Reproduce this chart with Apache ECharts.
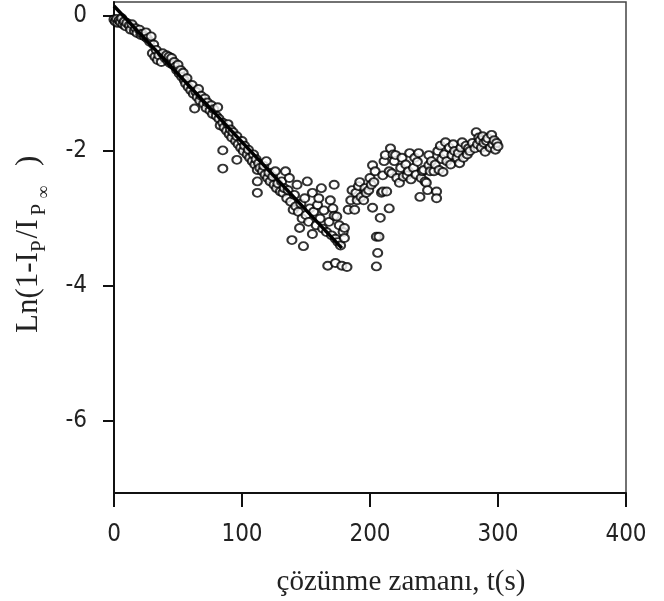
<!DOCTYPE html>
<html><head><meta charset="utf-8">
<script src="https://cdn.jsdelivr.net/npm/echarts@6/dist/echarts.min.js"></script>
<style>html,body{margin:0;padding:0;background:#fff}#c{width:664px;height:601px}</style>
</head><body><div id="c"></div>
<script>
// measured points (t in s, ln value)
const obsT = [0,1,2,3,4,5,6,7,8,9,10,12,13,14,16,17,18,20,21,22,24,25,26,28,29,30,31,32,33,34,35,37,38,40,41,42,43,44,45,46,47,48,49,50,51,52,53,54,55,56,57,58,60,61,62,63,64,65,66,67,68,70,71,72,73,75,76,77,78,80,81,82,83,85,85,85,86,88,89,90,91,92,93,95,96,96,97,99,100,101,102,104,105,106,108,109,110,111,112,112,112,113,114,116,117,118,119,120,121,122,124,125,126,127,128,130,131,132,133,134,135,136,137,138,139,140,141,142,143,144,145,146,147,148,149,150,151,152,153,155,155,156,158,159,160,161,162,163,164,166,167,168,169,170,171,172,172,173,173,174,175,176,177,178,179,180,180,182,
183,185,186,188,189,190,191,192,193,195,196,197,199,200,201,202,202,203,204,205,205,206,207,208,209,210,210,211,212,213,215,215,216,217,218,219,220,221,223,224,225,226,228,229,230,231,232,234,235,236,237,238,239,240,241,242,243,244,245,246,246,247,248,250,251,252,252,253,254,255,256,257,258,259,260,262,263,264,265,266,268,269,270,271,272,273,275,276,277,278,280,282,283,284,285,286,287,288,289,290,291,292,294,295,296,297,298,299,300];
const obsY = [-0.05,-0.08,-0.04,-0.1,-0.06,-0.09,-0.03,-0.12,-0.08,-0.15,-0.1,-0.14,-0.2,-0.12,-0.22,-0.18,-0.25,-0.2,-0.28,-0.26,-0.3,-0.24,-0.33,-0.38,-0.3,-0.55,-0.42,-0.6,-0.5,-0.65,-0.58,-0.68,-0.55,-0.62,-0.58,-0.66,-0.6,-0.7,-0.62,-0.72,-0.68,-0.75,-0.8,-0.72,-0.85,-0.8,-0.9,-0.84,-0.95,-1.0,-0.92,-1.05,-1.1,-1.02,-1.15,-1.37,-1.12,-1.2,-1.08,-1.25,-1.18,-1.3,-1.22,-1.36,-1.28,-1.4,-1.32,-1.45,-1.38,-1.48,-1.35,-1.52,-1.62,-1.58,-1.99,-2.26,-1.65,-1.7,-1.6,-1.75,-1.68,-1.8,-1.72,-1.85,-2.13,-1.78,-1.9,-1.95,-1.85,-2.0,-1.92,-2.05,-1.98,-2.1,-2.15,-2.05,-2.2,-2.12,-2.28,-2.45,-2.62,-2.18,-2.25,-2.3,-2.22,-2.35,-2.15,-2.4,-2.32,-2.45,-2.38,-2.5,-2.3,-2.55,-2.48,-2.6,-2.45,-2.62,-2.55,-2.3,-2.7,-2.58,-2.4,-2.75,-3.32,-2.87,-2.65,-2.82,-2.5,-2.9,-3.14,-2.78,-3.0,-3.41,-2.7,-2.95,-2.45,-3.05,-2.85,-3.23,-2.62,-2.9,-3.1,-2.8,-2.7,-3.0,-2.55,-3.15,-2.88,-3.2,-3.7,-3.05,-2.73,-3.25,-2.85,-2.5,-2.96,-3.3,-3.66,-2.97,-3.35,-3.1,-3.4,-3.7,-3.2,-3.29,-3.14,-3.72,
-2.87,-2.73,-2.58,-2.87,-2.62,-2.73,-2.52,-2.46,-2.68,-2.73,-2.55,-2.62,-2.58,-2.4,-2.5,-2.84,-2.21,-2.46,-2.3,-3.71,-3.27,-3.51,-3.27,-2.99,-2.62,-2.6,-2.36,-2.15,-2.06,-2.6,-2.85,-2.3,-1.96,-2.33,-2.05,-2.15,-2.06,-2.4,-2.47,-2.25,-2.1,-2.38,-2.2,-2.36,-2.3,-2.03,-2.42,-2.25,-2.1,-2.35,-2.16,-2.03,-2.68,-2.4,-2.3,-2.28,-2.45,-2.47,-2.58,-2.06,-2.21,-2.3,-2.15,-2.3,-2.2,-2.6,-2.7,-2.0,-2.28,-1.92,-2.12,-2.31,-2.05,-1.87,-2.15,-1.95,-2.2,-2.06,-1.9,-2.0,-2.1,-2.03,-2.18,-1.95,-1.87,-2.1,-1.92,-2.05,-1.96,-2.0,-1.88,-1.96,-1.72,-1.9,-1.8,-1.84,-1.95,-1.78,-1.88,-2.01,-1.85,-1.81,-1.95,-1.76,-1.9,-1.84,-1.98,-1.88,-1.93];
// fitted line end points
const fitT = [0, 178];
const fitY = [0.15, -3.44];
const xTicks = [0, 100, 200, 300, 400];
const yTicks = [-6, -4, -2, 0];

const scatterData = obsT.map((t, i) => [t, obsY[i]]);
const lineData = fitT.map((t, i) => [t, fitY[i]]);

// y-axis title pieces: [text, fontSize, baseline shift, extra gap after]
const serif = '"Liberation Serif", serif';
const pieces = [['Ln(1-I', 31, 0, 0], ['P', 21, 6, 2], ['/I', 31, 0, 4], ['P', 21, 6, 5], ['\u221E', 18, 9, 20], [')', 31, 0, 0]];
const mctx = document.createElement('canvas').getContext('2d');
let cx = 0;
const titleEls = pieces.map(p => {
  mctx.font = p[1] + 'px ' + serif;
  const el = {type: 'text', x: cx, y: p[2], style: {text: p[0], font: p[1] + 'px ' + serif, fill: '#222', align: 'left', verticalAlign: 'bottom'}};
  cx += mctx.measureText(p[0]).width + p[3];
  return el;
});

const chart = echarts.init(document.getElementById('c'), null, {renderer: 'canvas'});
const tickFont = {fontFamily: '"Liberation Sans Narrow", "DejaVu Sans Condensed", sans-serif', fontSize: 24, color: '#222'};
chart.setOption({
  animation: false,
  backgroundColor: '#fff',
  grid: {left: 114, top: 2, width: 512, height: 491, show: true, borderColor: '#444', borderWidth: 1.5, backgroundColor: 'transparent'},
  xAxis: {
    type: 'value', min: 0, max: 400, interval: 100,
    axisLine: {show: true, onZero: false, lineStyle: {color: '#111', width: 2}},
    axisTick: {show: true, inside: false, length: 14, lineStyle: {color: '#111', width: 2}},
    axisLabel: Object.assign({margin: 30, customValues: xTicks}, tickFont),
    splitLine: {show: false}
  },
  yAxis: {
    type: 'value', min: -7.07, max: 0.21,
    axisLine: {show: true, onZero: false, lineStyle: {color: '#111', width: 2}},
    axisTick: {show: true, inside: false, length: 11, customValues: yTicks, lineStyle: {color: '#111', width: 2}},
    axisLabel: Object.assign({margin: 27, customValues: yTicks}, tickFont),
    splitLine: {show: false}
  },
  graphic: [
    {type: 'text', x: 401, y: 582, style: {text: 'çözünme zamanı, t(s)', align: 'center', verticalAlign: 'middle', font: '29px ' + serif, fill: '#222'}},
    {type: 'group', x: 44, y: 333, rotation: Math.PI / 2, children: titleEls}
  ],
  series: [
    {type: 'scatter', data: scatterData, symbol: 'emptyCircle', symbolSize: [9, 8],
     itemStyle: {color: '#000', borderColor: '#000', borderWidth: 1.6}, z: 2},
    {type: 'line', data: lineData, showSymbol: false, symbol: 'none',
     lineStyle: {color: '#000', width: 3.5}, z: 3}
  ]
});
</script></body></html>
